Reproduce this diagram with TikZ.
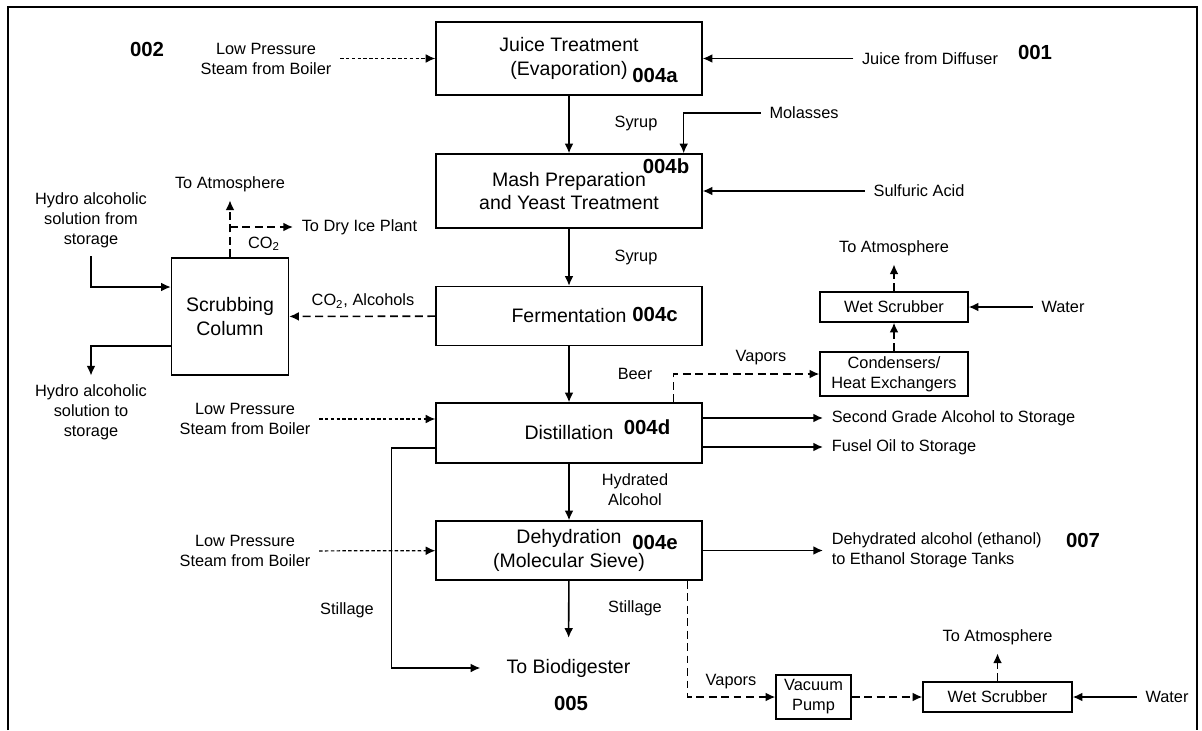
\documentclass[tikz,border=0pt]{standalone}
\usepackage{fontspec}
\setmainfont{Liberation Sans}
\usepackage{tikz}
\usetikzlibrary{shapes,arrows,arrows.meta}
\newcommand{\boxfont}{\fontsize{11.1}{13.6}\selectfont}
\newcommand{\lblfont}{\fontsize{9.3}{11.4}\selectfont}
\newcommand{\numfont}{\fontsize{11.6}{13}\selectfont\bfseries}
\tikzstyle{block} = [rectangle, draw=black, line width=0.8pt, minimum width=5.32cm, inner sep=0pt, align=center, font=\boxfont]
\tikzstyle{unit} = [rectangle, draw=black, line width=0.8pt, inner sep=0pt, align=center, font=\lblfont]
\tikzstyle{tag} = [inner sep=1pt, outer sep=4pt, align=center, font=\lblfont]
\tikzstyle{num} = [inner sep=0pt, font=\numfont]
\tikzstyle{line} = [draw, line width=0.9pt, -{Latex[length=5.5pt,width=5pt]}]
\tikzstyle{dline} = [line, dash pattern=on 4.5pt off 2.6pt]
\tikzstyle{sline} = [line, line width=0.7pt, dash pattern=on 2pt off 1.3pt]

\begin{document}
\begin{tikzpicture}[x=0.02cm, y=-0.02cm]
    \useasboundingbox (0,0) rectangle (1202,730);
    \draw [line width=1pt] (8,730) -- (8,7) -- (1197,7) -- (1197,730);

    % process blocks
    \node (juice) [block, minimum height=1.46cm] at (569,58.5) {Juice Treatment\\(Evaporation)};
    \node (mash)  [block, minimum height=1.48cm] at (569,191)  {Mash Preparation\\and Yeast Treatment};
    \node (ferm)  [block, minimum height=1.18cm] at (569,316)  {Fermentation};
    \node (dist)  [block, minimum height=1.2cm]  at (569,433)  {Distillation};
    \node (dehyd) [block, minimum height=1.18cm] at (569,550.5) {Dehydration\\(Molecular Sieve)};
    \node (scrub) [block, minimum width=2.34cm, minimum height=2.34cm] at (230,316.5) {Scrubbing\\Column};

    \node (wetsA) [unit, minimum width=2.96cm, minimum height=0.6cm]  at (894,307)   {Wet Scrubber};
    \node (cond)  [unit, minimum width=2.96cm, minimum height=0.88cm] at (894,374)   {Condensers/\\Heat Exchangers};
    \node (vac)   [unit, minimum width=1.5cm,  minimum height=0.88cm] at (813.5,697) {Vacuum\\Pump};
    \node (wetsB) [unit, minimum width=2.98cm, minimum height=0.6cm]  at (997.5,697) {Wet Scrubber};

    % stream numbers
    \node (n002)  [num] at (147,49)  {002};
    \node (n001)  [num] at (1035,52) {001};
    \node (n004a) [num] at (655,75)  {004a};
    \node (n004b) [num] at (666,166) {004b};
    \node (n004c) [num] at (655,314) {004c};
    \node (n004d) [num] at (647,427) {004d};
    \node (n004e) [num] at (655,542) {004e};
    \node (n005)  [num] at (571,703) {005};
    \node (n007)  [num] at (1083,540) {007};

    % streams in and out
    \node (steamA)   [tag] at (266,58.5) {Low Pressure\\Steam from Boiler};
    \node (steamB)   [tag] at (245,419)  {Low Pressure\\Steam from Boiler};
    \node (steamC)   [tag] at (245,551)  {Low Pressure\\Steam from Boiler};
    \node (diffuser) [tag] at (930,58.5) {Juice from Diffuser};
    \node (molasses) [tag] at (804,113)  {Molasses};
    \node (sulfuric) [tag] at (919,191)  {Sulfuric Acid};
    \node (hydroin)  [tag] at (91,220)   {Hydro alcoholic\\solution from\\storage};
    \node (hydroout) [tag] at (91,412)   {Hydro alcoholic\\solution to\\storage};
    \node (atmosA)   [tag] at (230,184)  {To Atmosphere};
    \node (dryice)   [tag, anchor=west] at (293,227) {To Dry Ice Plant};
    \node (atmosB)   [tag] at (894,248)  {To Atmosphere};
    \node (waterA)   [tag] at (1063,307) {Water};
    \node (grade)    [tag, anchor=west] at (823,418) {Second Grade Alcohol to Storage};
    \node (fusel)    [tag, anchor=west] at (823,447) {Fusel Oil to Storage};
    \node (ethanol)  [tag, anchor=west, align=left] at (823,550.5) {Dehydrated alcohol (ethanol)\\to Ethanol Storage Tanks};
    \node (biodig)   [tag, font=\boxfont] at (568.5,668) {To Biodigester};
    \node (atmosC)   [tag] at (997.5,637) {To Atmosphere};
    \node (waterB)   [tag] at (1167,697) {Water};

    % connector labels
    \node (syrupA)   [tag] at (636,123) {Syrup};
    \node (syrupB)   [tag] at (636,257) {Syrup};
    \node (beer)     [tag] at (635,374) {Beer};
    \node (hydrated) [tag] at (635,490) {Hydrated\\Alcohol};
    \node (stillA)   [tag] at (347,610) {Stillage};
    \node (stillB)   [tag] at (635,608) {Stillage};
    \node (vapA)     [tag] at (761,358) {Vapors};
    \node (vapB)     [tag] at (731,682) {Vapors};
    \node (gases)    [tag] at (363,301) {CO\textsubscript{2}, Alcohols};
    \node (co2)      [tag] at (264,244) {CO\textsubscript{2}};

    % main line
    \path [sline] (steamA) -- (juice);
    \path [line]  (diffuser) -- (juice);
    \path [line]  (juice) -- (mash);
    \path [line]  (molasses) -| ([xshift=-0.38cm]mash.north east);
    \path [line]  (sulfuric) -- (mash);
    \path [line]  (mash) -- (ferm);
    \path [line]  (ferm) -- (dist);
    \path [sline] (steamB) -- (steamB -| dist.west);
    \path [line]  ([yshift=0.3cm]dist.east) -- (grade);
    \path [line]  ([yshift=-0.28cm]dist.east) -- (fusel);
    \path [line]  (dist) -- (dehyd);
    \path [sline] (steamC) -- (dehyd);
    \path [line]  (dehyd) -- (ethanol);
    \path [line, shorten >=7pt] (dehyd) -- (biodig);
    \path [line, shorten >=10pt] ([yshift=-0.3cm]dist.west) -| ([xshift=-0.88cm]dehyd.west) |- (biodig);

    % scrubbing column
    \path [dline] (ferm) -- (scrub);
    \path [dline] (scrub) -- (atmosA);
    \coordinate (co2split) at (scrub.north |- dryice.west);
    \path [dline] (co2split) -- (dryice);
    \path [line]  (hydroin) |- ([yshift=0.59cm]scrub.west);
    \path [line]  ([yshift=-0.59cm]scrub.west) -| (hydroout);

    % vapor treatment
    \path [dline] ([xshift=-0.58cm]dist.north east) |- (cond);
    \path [dline] (cond) -- (wetsA);
    \path [dline] (wetsA) -- (atmosB);
    \path [line]  (waterA) -- (wetsA);
    \path [dline] ([xshift=-0.3cm]dehyd.south east) |- (vac);
    \path [dline] (vac) -- (wetsB);
    \path [dline] (wetsB) -- (atmosC);
    \path [line]  (waterB) -- (wetsB);
\end{tikzpicture}
\end{document}
